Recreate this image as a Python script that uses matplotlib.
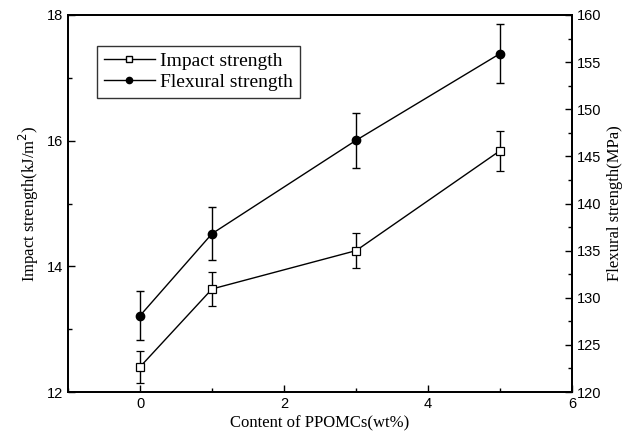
import numpy as np
import matplotlib.pyplot as plt
from matplotlib.ticker import MultipleLocator
from matplotlib.lines import Line2D

# data
content = [0, 1, 3, 5]
impact = [12.4, 13.64, 14.25, 15.84]
impact_err = [0.25, 0.27, 0.28, 0.32]
flexural = [128.1, 136.8, 146.7, 155.9]
flexural_err = [2.6, 2.8, 2.9, 3.1]

serif = 'Liberation Serif'
sans = 'Liberation Sans'

fig = plt.figure(figsize=(6.3, 4.4), dpi=100)
ax = fig.add_axes([0.108, 0.109, 0.800, 0.857])
ax2 = ax.twinx()

ax.errorbar(content, impact, yerr=impact_err, color='black', lw=1.0,
            marker='s', ms=5.5, mfc='white', mec='black', mew=0.9,
            capsize=3, elinewidth=1.0, capthick=1.0)
ax2.errorbar(content, flexural, yerr=flexural_err, color='black', lw=1.0,
             marker='o', ms=6, mfc='black', mec='black',
             capsize=3, elinewidth=1.0, capthick=1.0)

ax.set_xlim(-1, 6)
ax.set_ylim(12, 18)
ax2.set_ylim(120, 160)

ax.xaxis.set_major_locator(MultipleLocator(2))
ax.xaxis.set_minor_locator(MultipleLocator(1))
ax.yaxis.set_major_locator(MultipleLocator(2))
ax.yaxis.set_minor_locator(MultipleLocator(1))
ax2.yaxis.set_major_locator(MultipleLocator(5))
ax2.yaxis.set_minor_locator(MultipleLocator(2.5))

for a in (ax, ax2):
    a.tick_params(which='major', direction='in', length=5, width=1.0)
    a.tick_params(which='minor', direction='in', length=3, width=1.0)
    for s in a.spines.values():
        s.set_linewidth(1.3)
ax.tick_params(axis='x', which='both', top=False)
ax.tick_params(axis='y', which='both', right=False)

for lab in ax.get_xticklabels() + ax.get_yticklabels() + ax2.get_yticklabels():
    lab.set_fontfamily(sans)
    lab.set_fontsize(10.5)

ax.set_xlabel('Content of PPOMCs(wt%)', fontfamily=serif, fontsize=12, labelpad=3)
ax.set_ylabel('Impact strength(kJ/m$^2$)', fontfamily=serif, fontsize=12, labelpad=4)
ax2.set_ylabel('Flexural strength(MPa)', fontfamily=serif, fontsize=12, labelpad=4)

h1 = Line2D([], [], color='black', lw=1.0, marker='s', ms=4, mfc='white', mec='black')
h2 = Line2D([], [], color='black', lw=1.0, marker='o', ms=4.5, mfc='black', mec='black')
leg = ax.legend([h1, h2], ['Impact strength', 'Flexural strength'],
                loc='upper left', bbox_to_anchor=(0.058, 0.918),
                prop={'family': serif, 'size': 14}, frameon=True,
                fancybox=False, edgecolor='black', handlelength=2.6,
                handletextpad=0.3, borderpad=0.35, labelspacing=0.15,
                borderaxespad=0)
leg.get_frame().set_linewidth(1.0)

fig.savefig('out.png', dpi=100)
